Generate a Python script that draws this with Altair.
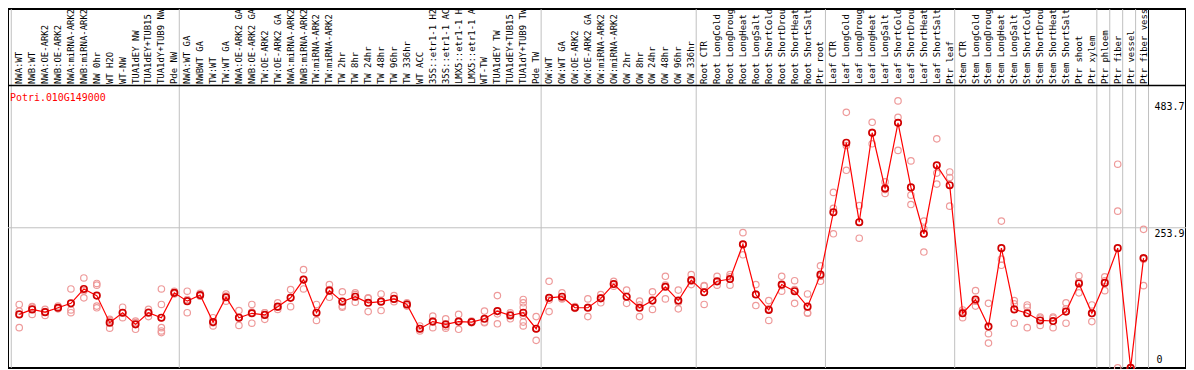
import altair as alt
import pandas as pd

GENE = "Potri.010G149000"

SAMPLES = [
    "NWA:WT", "NWB:WT", "NWA:OE-ARK2", "NWB:OE-ARK2", "NWA:miRNA-ARK2", "NWB:miRNA-ARK2",
    "NW 0hr", "WT H2O", "WT-NW", "TUA1dEY NW", "TUA1dEY+TUB15 NW", "TUA1dY+TUB9 NW", "Pde NW",
    "NWA:WT GA", "NWBWT GA", "TW:WT", "TW:WT GA", "NWA:OE-ARK2 GA", "NWB:OE-ARK2 GA",
    "TW:OE-ARK2", "TW:OE-ARK2 GA", "NWA:miRNA-ARK2 GA", "NWB:miRNA-ARK2 GA", "TW:miRNA-ARK2",
    "TW:miRNA-ARK2 GA", "TW 2hr", "TW 8hr", "TW 24hr", "TW 48hr", "TW 96hr", "TW 336hr",
    "WT ACC", "35S::etr1-1 H2O", "35S::etr1-1 ACC", "LMX5::etr1-1 H2O", "LMX5::etr1-1 ACC",
    "WT-TW", "TUA1dEY TW", "TUA1dEY+TUB15 TW", "TUA1dY+TUB9 TW", "Pde TW",
    "OW:WT", "OW:WT GA", "OW:OE-ARK2", "OW:OE-ARK2 GA", "OW:miRNA-ARK2", "OW:miRNA-ARK2 GA",
    "OW 2hr", "OW 8hr", "OW 24hr", "OW 48hr", "OW 96hr", "OW 336hr",
    "Root CTR", "Root LongCold", "Root LongDrought", "Root LongHeat", "Root LongSalt",
    "Root ShortCold", "Root ShortDrought", "Root ShortHeat", "Root ShortSalt", "Ptr root",
    "Leaf CTR", "Leaf LongCold", "Leaf LongDrought", "Leaf LongHeat", "Leaf LongSalt",
    "Leaf ShortCold", "Leaf ShortDrought", "Leaf ShortHeat", "Leaf ShortSalt", "Ptr leaf",
    "Stem CTR", "Stem LongCold", "Stem LongDrought", "Stem LongHeat", "Stem LongSalt",
    "Stem ShortCold", "Stem ShortDrought", "Stem ShortHeat", "Stem ShortSalt", "Ptr shoot",
    "Ptr xylem", "Ptr phloem", "Ptr fiber", "Ptr vessel", "Ptr fiber vessel",
]

GROUP_SIZES = [13, 28, 12, 10, 10, 11, 1, 1, 1, 1]

MEANS = [
    97, 106, 101, 109, 117, 143, 131, 82, 100, 79, 100, 91, 136,
    121, 132, 83, 128, 91, 99, 96, 111, 127, 160, 100, 140, 120, 129, 118, 120, 125, 115,
    71, 84, 79, 84, 83, 89, 103, 95, 100, 71,
    127, 129, 109, 109, 126, 152, 129, 109, 122, 147, 122, 159,
    137, 157, 161, 224, 133, 105, 151, 139, 111, 169,
    282, 408, 264, 426, 325, 444, 327, 243, 367, 331,
    99, 124, 75, 217, 106, 99, 86, 85, 102, 153, 99,
    154, 217, 0, 199,
]

REPLICATES = [
    [115, 73, 103], [110, 97, 111], [106, 95, 102], [112, 107, 109], [143, 105, 100],
    [163, 127, 140], [153, 150, 112, 109], [86, 72, 88], [110, 91, 100], [82, 70, 85],
    [106, 93, 101], [143, 115, 91, 73, 67, 64], [139, 134, 136],
    [139, 100, 124], [135, 130, 131], [91, 76, 82], [134, 121, 130], [104, 77, 92],
    [115, 81, 101], [100, 88, 100], [118, 110, 106], [142, 111, 128], [178, 143, 160],
    [115, 86, 100], [151, 128, 142], [138, 112, 110], [136, 133, 119], [127, 102, 126],
    [134, 104, 121], [131, 120, 125], [118, 112, 116], [76, 67, 71], [94, 73, 85],
    [89, 72, 75], [97, 70, 85], [85, 82, 83], [103, 82, 83], [131, 80, 98],
    [100, 89, 97], [124, 118, 110, 95, 83, 76], [93, 50, 71],
    [157, 102, 123], [136, 125, 126], [111, 108, 109], [125, 93, 110], [133, 118, 127],
    [157, 148, 152], [141, 117, 129], [121, 93, 114], [138, 106, 123], [166, 125, 150],
    [141, 107, 119], [169, 151, 157],
    [149, 115, 148], [166, 150, 156], [169, 150, 165], [245, 205, 223], [151, 113, 134],
    [122, 86, 107], [166, 139, 149], [158, 117, 142], [134, 100, 99], [185, 157, 166],
    [318, 289, 243], [463, 403, 358], [294, 235, 264], [445, 406, 427], [337, 316, 323],
    [483.7, 454, 394], [375, 313, 296], [266, 210, 252], [415, 353, 333], [355, 345, 293],
    [105, 91, 101], [140, 112, 121], [117, 62, 45], [266, 197, 186], [122, 81, 116],
    [114, 73, 110], [92, 77, 90], [90, 73, 92], [118, 81, 107], [167, 136, 156],
    [114, 84, 99],
    [165, 140, 158], [369, 284, 0], [0, 0, 0], [251, 149, 197],
]

AXIS_TICKS = [483.7, 253.9, 0]
LABEL_CHARS = 14

# ---- geometry of the view (scales only) ----
W, H = 1185, 361
COL_PX = 13.0
PX_PER_UNIT = 141.0 / 253.9
X0 = -11.3 / COL_PX
X1 = X0 + W / COL_PX
Y1 = H / PX_PER_UNIT
HEADER_Y = (H - 77) / PX_PER_UNIT      # boundary between header and plot
LABEL_Y = (H - 75.5) / PX_PER_UNIT     # anchor of the rotated labels
DIV_OFF = 8.0 / COL_PX

xs = alt.Scale(domain=[X0, X1], nice=False, zero=False)
ys = alt.Scale(domain=[0, Y1], nice=False, zero=False)

idx = list(range(len(SAMPLES)))
means_df = pd.DataFrame({"i": idx, "v": MEANS})
reps_df = pd.DataFrame(
    [{"i": i, "v": v} for i, reps in enumerate(REPLICATES) for v in reps]
)
labels_df = pd.DataFrame(
    {"i": idx, "label": [s[:LABEL_CHARS] for s in SAMPLES], "y": LABEL_Y}
)

bounds = [0]
for g in GROUP_SIZES:
    bounds.append(bounds[-1] + g)
div_df = pd.DataFrame({"x": [b - DIV_OFF for b in bounds], "y0": 0.0, "y1": Y1})
right_hdr_df = pd.DataFrame({"x": [bounds[-1] - DIV_OFF], "y0": HEADER_Y, "y1": Y1})
grid_df = pd.DataFrame({"x0": [X0], "x1": [X1], "y": [AXIS_TICKS[1]]})
hdr_df = pd.DataFrame({"x0": [X0], "x1": [X1], "y": [HEADER_Y]})
ticks_top = pd.DataFrame({"x": bounds[-1] - DIV_OFF, "v": [t for t in AXIS_TICKS if t > 0]})
ticks_bot = pd.DataFrame({"x": bounds[-1] - DIV_OFF, "v": [t for t in AXIS_TICKS if t == 0]})
title_df = pd.DataFrame({"t": [GENE]})

MONO = "DejaVu Sans Mono"

dividers = alt.Chart(div_df).mark_rule(color="#c0c0c0", strokeWidth=1).encode(
    x=alt.X("x:Q", scale=xs, axis=None),
    y=alt.Y("y0:Q", scale=ys, axis=None),
    y2="y1:Q",
)
right_hdr = alt.Chart(right_hdr_df).mark_rule(color="black", strokeWidth=1).encode(
    x=alt.X("x:Q", scale=xs, axis=None),
    y=alt.Y("y0:Q", scale=ys, axis=None),
    y2="y1:Q",
)
grid = alt.Chart(grid_df).mark_rule(color="#c0c0c0", strokeWidth=1).encode(
    x=alt.X("x0:Q", scale=xs, axis=None),
    x2="x1:Q",
    y=alt.Y("y:Q", scale=ys, axis=None),
)
hdr_line = alt.Chart(hdr_df).mark_rule(color="black", strokeWidth=1.5).encode(
    x=alt.X("x0:Q", scale=xs, axis=None),
    x2="x1:Q",
    y=alt.Y("y:Q", scale=ys, axis=None),
)
labels = alt.Chart(labels_df).mark_text(
    angle=270, align="left", baseline="middle", font=MONO, fontSize=9, color="black"
).encode(
    x=alt.X("i:Q", scale=xs, axis=None),
    y=alt.Y("y:Q", scale=ys, axis=None),
    text="label:N",
)
reps = alt.Chart(reps_df).mark_point(
    shape="circle", filled=False, size=42, strokeWidth=1.2, color="#ee9a9a", opacity=1
).encode(
    x=alt.X("i:Q", scale=xs, axis=None),
    y=alt.Y("v:Q", scale=ys, axis=None),
)
line = alt.Chart(means_df).mark_line(color="#ff0000", strokeWidth=1.2).encode(
    x=alt.X("i:Q", scale=xs, axis=None),
    y=alt.Y("v:Q", scale=ys, axis=None),
)
means = alt.Chart(means_df).mark_point(
    shape="circle", filled=False, size=42, strokeWidth=1.7, color="#d00000", opacity=1
).encode(
    x=alt.X("i:Q", scale=xs, axis=None),
    y=alt.Y("v:Q", scale=ys, axis=None),
)
tick_top = alt.Chart(ticks_top).mark_text(
    align="left", baseline="top", dx=6, dy=1, font=MONO, fontSize=10, color="black"
).encode(
    x=alt.X("x:Q", scale=xs, axis=None),
    y=alt.Y("v:Q", scale=ys, axis=None),
    text=alt.Text("v:Q", format=".1f"),
)
tick_bot = alt.Chart(ticks_bot).mark_text(
    align="left", baseline="bottom", dx=8, dy=-3, font=MONO, fontSize=10, color="black"
).encode(
    x=alt.X("x:Q", scale=xs, axis=None),
    y=alt.Y("v:Q", scale=ys, axis=None),
    text=alt.Text("v:Q", format="d"),
)
title = alt.Chart(title_df).mark_text(
    align="left", baseline="middle", font=MONO, fontSize=10, color="#ff0000"
).encode(
    x=alt.value(2),
    y=alt.value(89),
    text="t:N",
)

chart = alt.layer(
    dividers, grid, right_hdr, hdr_line, labels, reps, line, means, tick_top, tick_bot, title
).properties(
    width=W,
    height=H,
    autosize=alt.AutoSizeParams(type="none"),
    padding=0,
    background="white",
).configure_view(stroke="black", strokeWidth=2)

chart.save("out.html", embed_options={"renderer": "svg", "actions": False})
